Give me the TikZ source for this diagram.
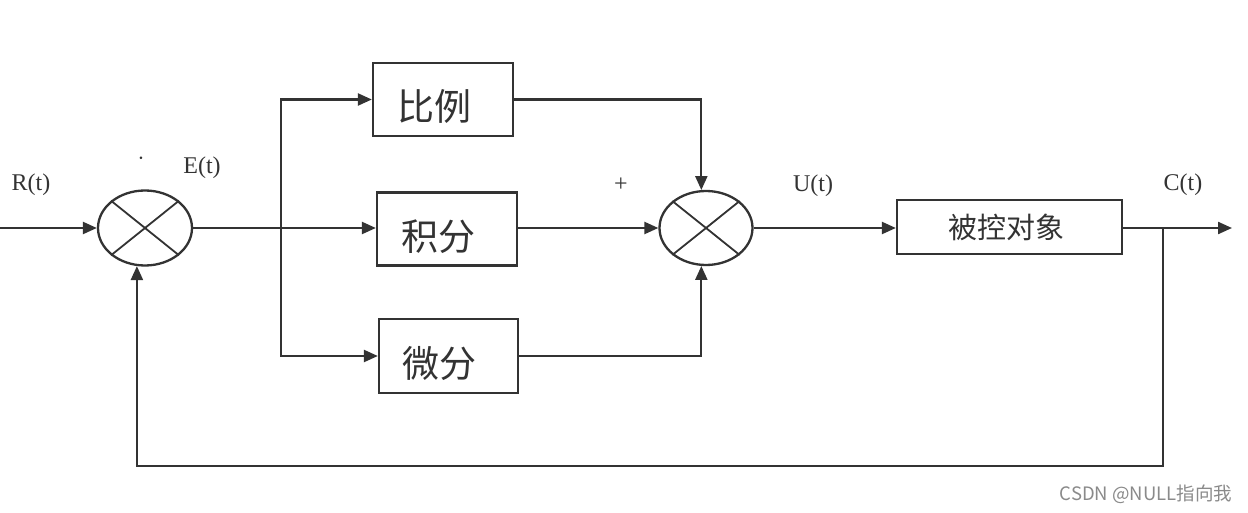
\documentclass[tikz,border=0pt]{standalone}
\usepackage{fontspec}
\setmainfont{Liberation Serif}
\newfontfamily\cjk{Noto Sans CJK SC}
\usetikzlibrary{arrows.meta,shapes.geometric}
\definecolor{ink}{HTML}{333333}
\definecolor{wm}{HTML}{8A8A8A}
\newcommand\shtxt[2]{\hspace*{#1}#2}
\tikzset{
  blk/.style={draw=ink,line width=2.3pt,rectangle,inner sep=0pt,font=\cjk\fontsize{37}{37}\selectfont,text=ink},
  pidblk/.style={blk,text height=48pt,text depth=5pt},
  sumnode/.style={draw=ink,line width=2.3pt,ellipse,minimum width=94pt,minimum height=75pt,inner sep=0pt},
  wire/.style={draw=ink,line width=2.3pt},
  arr/.style={wire,-{Triangle[length=14pt,width=12pt]}},
  lbl/.style={text=ink,font=\fontsize{24}{24}\selectfont,inner sep=0pt}
}
\begin{document}
\begin{tikzpicture}[x=1pt,y=-1pt]
\useasboundingbox[fill=white] (0,0) rectangle (1248,513);
% summing junctions
\node[sumnode] (s1) at (145,228) {};
\node[sumnode,minimum width=93pt,minimum height=74pt] (s2) at (706,228) {};
\draw[wire,line width=1.8pt] (s1.north west) -- (s1.south east) (s1.north east) -- (s1.south west);
\draw[wire,line width=1.8pt] (s2.north west) -- (s2.south east) (s2.north east) -- (s2.south west);
% blocks
\node[pidblk,minimum width=140pt,minimum height=73pt] (P) at (443,99.5) {\shtxt{-18pt}{比例}};
\node[pidblk,minimum width=140pt,minimum height=73pt] (I) at (447,229) {\shtxt{-18pt}{积分}};
\node[pidblk,minimum width=139pt,minimum height=74pt] (D) at (448.5,356) {\shtxt{-18pt}{微分}};
\node[blk,minimum width=225pt,minimum height=54pt,font=\cjk\fontsize{29}{29}\selectfont] (G) at (1009.5,227) {\shtxt{-6pt}{被控对象}};
% coordinates
\coordinate (in) at (0,228);
\coordinate (br) at (281,228);
\coordinate (out) at (1232,228);
\coordinate (fb) at (1163,228);
\coordinate (fc) at (1163,466);
% connectors
\draw[arr] (in) -- (s1.west);
\draw[arr] (s1.east) -- (s1.east -| I.west);
\draw[arr] (br) |- (P.west);
\draw[arr] (br) |- (D.west);
\draw[arr] (I.east |- s2.west) -- (s2.west);
\draw[arr] (P.east) -| (s2.97);
\draw[arr] (D.east) -| (s2.263);
\draw[arr] (s2.east) -- (s2.east -| G.west);
\draw[arr] (G.east |- out) -- (out);
\draw[arr] (fb) -- (fc) -| (s1.258);
% labels
\node[lbl] (lr) at (31,185) {R(t)};
\node[lbl] (le) at (202,168) {E(t)};
\node[lbl] (ld) at (141,159) {$\cdot$};
\node[lbl] (lp) at (621,185) {+};
\node[lbl] (lu) at (813,186) {U(t)};
\node[lbl] (lc) at (1183,185) {C(t)};
\node[text=wm,font=\cjk\fontsize{18.5}{18.5}\selectfont,inner sep=0pt] (wmk) at (1146,494) {CSDN @NULL指向我};
\end{tikzpicture}
\end{document}
